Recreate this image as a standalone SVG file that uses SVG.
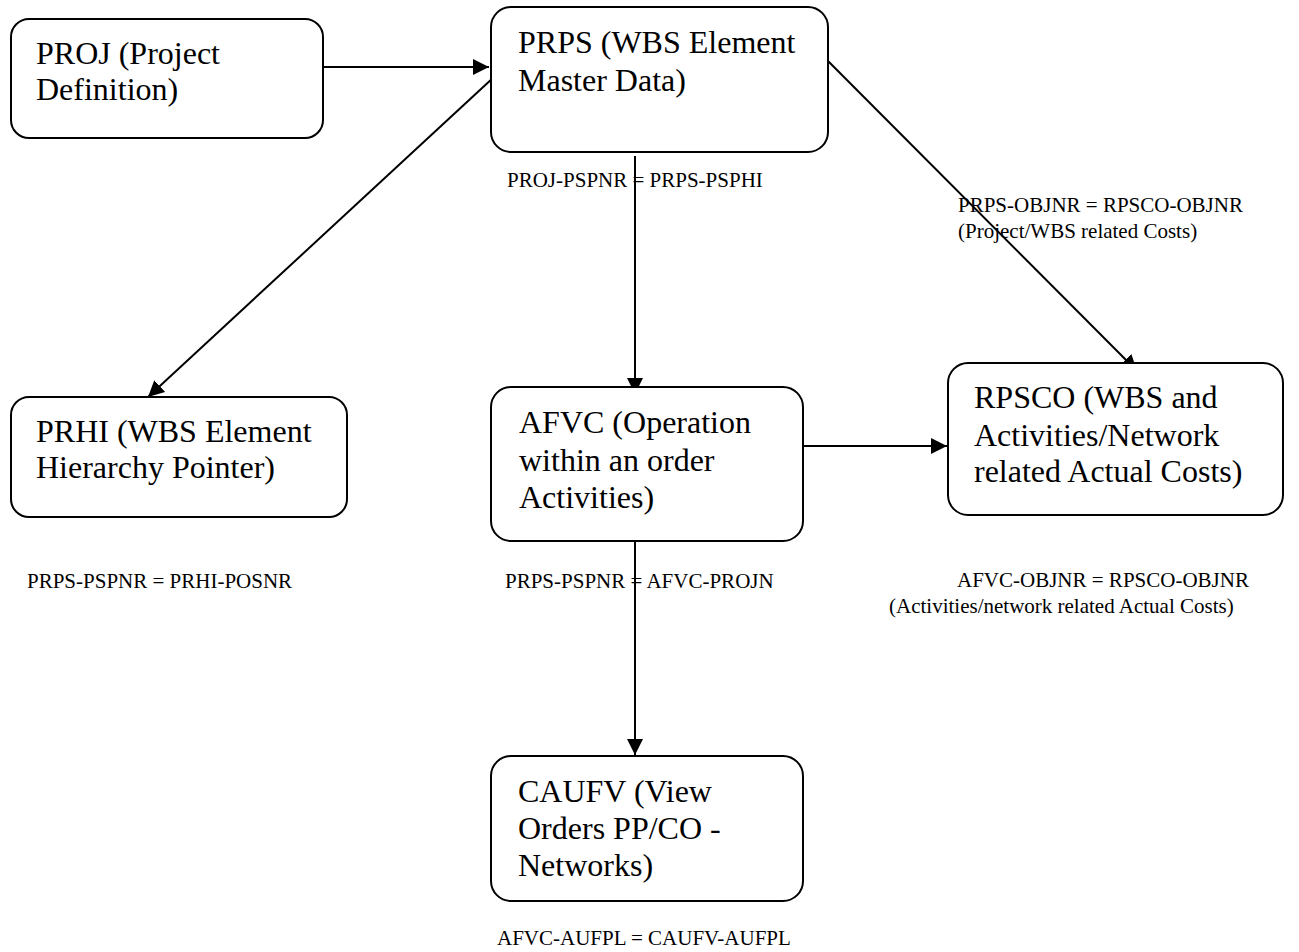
<svg xmlns="http://www.w3.org/2000/svg" width="1299" height="952" viewBox="0 0 1299 952">
<style>
.box{fill:#fff;stroke:#000;stroke-width:2}
.nt{font-size:32px;fill:#000}
.lb{font-size:21px;fill:#000}
.cn{stroke:#000;stroke-width:2;fill:none}
</style>
<defs>
<marker id="ah" markerUnits="userSpaceOnUse" markerWidth="18" markerHeight="16" refX="16" refY="8" orient="auto" viewBox="0 0 18 16">
<path d="M0,0 L16,8 L0,16 Z" fill="#000"/>
</marker>
</defs>
<rect width="1299" height="952" fill="#fff"/>
<g id="connectors">
<line class="cn" x1="323" y1="67" x2="489" y2="67" marker-end="url(#ah)"/>
<line class="cn" x1="494" y1="77" x2="148" y2="397" marker-end="url(#ah)"/>
<line class="cn" x1="635" y1="156" x2="635" y2="394" marker-end="url(#ah)"/>
<line class="cn" x1="827" y1="60" x2="1137" y2="371" marker-end="url(#ah)"/>
<line class="cn" x1="803" y1="446" x2="947" y2="446" marker-end="url(#ah)"/>
<line class="cn" x1="635" y1="541" x2="635" y2="755" marker-end="url(#ah)"/>
</g>
<g font-family="'Liberation Serif', 'Times New Roman', Tinos, 'DejaVu Serif', serif">
<g id="proj">
<rect class="box" x="11" y="19" width="312" height="119" rx="18"/>
<text class="nt" x="36" y="64">PROJ (Project</text>
<text class="nt" x="36" y="100">Definition)</text>
</g>
<g id="prps">
<rect class="box" x="491" y="7" width="337" height="145" rx="20"/>
<text class="nt" x="518" y="53">PRPS (WBS Element</text>
<text class="nt" x="518" y="91">Master Data)</text>
</g>
<g id="prhi">
<rect class="box" x="11" y="397" width="336" height="120" rx="18"/>
<text class="nt" x="36" y="442">PRHI (WBS Element</text>
<text class="nt" x="36" y="478">Hierarchy Pointer)</text>
</g>
<g id="afvc">
<rect class="box" x="491" y="387" width="312" height="154" rx="20"/>
<text class="nt" x="519" y="433">AFVC (Operation</text>
<text class="nt" x="519" y="471">within an order</text>
<text class="nt" x="519" y="508">Activities)</text>
</g>
<g id="rpsco">
<rect class="box" x="948" y="363" width="335" height="152" rx="20"/>
<text class="nt" x="974" y="408">RPSCO (WBS and</text>
<text class="nt" x="974" y="446">Activities/Network</text>
<text class="nt" x="974" y="482">related Actual Costs)</text>
</g>
<g id="caufv">
<rect class="box" x="491" y="756" width="312" height="145" rx="20"/>
<text class="nt" x="518" y="802">CAUFV (View</text>
<text class="nt" x="518" y="839">Orders PP/CO -</text>
<text class="nt" x="518" y="876">Networks)</text>
</g>
<g id="labels">
<text class="lb" x="507" y="187">PROJ-PSPNR = PRPS-PSPHI</text>
<text class="lb" x="958" y="212">PRPS-OBJNR = RPSCO-OBJNR</text>
<text class="lb" x="958" y="238">(Project/WBS related Costs)</text>
<text class="lb" x="27" y="588">PRPS-PSPNR = PRHI-POSNR</text>
<text class="lb" x="505" y="588">PRPS-PSPNR = AFVC-PROJN</text>
<text class="lb" x="957" y="587">AFVC-OBJNR = RPSCO-OBJNR</text>
<text class="lb" x="889" y="613">(Activities/network related Actual Costs)</text>
<text class="lb" x="497" y="945">AFVC-AUFPL = CAUFV-AUFPL</text>
</g>
</g>
</svg>
